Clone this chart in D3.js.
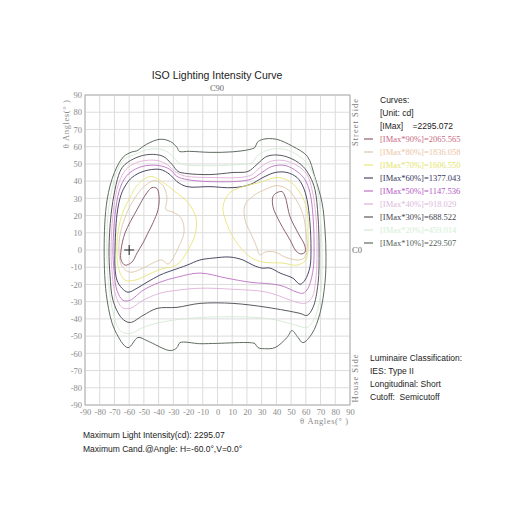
<!DOCTYPE html>
<html><head><meta charset="utf-8">
<script src="https://cdn.jsdelivr.net/npm/d3@7/dist/d3.min.js"></script>
<style>body{margin:0;background:#fff}svg{display:block}</style>
</head><body>
<svg id="chart" width="512" height="512"></svg>
<script>
// ---------- data (angles in degrees: [H, V]) ----------
const xTicks = [-90,-80,-70,-60,-50,-40,-30,-20,-10,0,10,20,30,40,50,60,70,80,90];
const yTicks = [90,80,70,60,50,40,30,20,10,0,-10,-20,-30,-40,-50,-60,-70,-80,-90];
const iMax = 2295.072;
const levelPct = [90,80,70,60,50,40,30,20,10];
const levelValues = [2065.565,1836.058,1606.550,1377.043,1147.536,918.029,688.522,459.014,229.507];
const maxPoint = [-60, 0];

const c10 = [[-77,0],[-75,29],[-70,45],[-64,54],[-58,57],[-55,57.5],[-48,61.5],[-39,64.3],[-32,63],[-27.5,59.6],[-26,57.3],[-19,57.3],[-5,56.7],[10,57],[22,58.4],[25.5,59.6],[27,62.5],[31,64.3],[40,64.3],[51,60.2],[61,54.4],[66,42.7],[71,27.5],[73,11.7],[73.7,-4],[73,-19],[69.6,-36.8],[64.2,-48.5],[58,-53.8],[54.7,-50.8],[50.6,-46.8],[47.2,-50.8],[39,-56.7],[32,-57.3],[27.5,-56.7],[25.5,-54.4],[22,-53.8],[0,-54.2],[-12,-54.4],[-25.5,-53.8],[-27.5,-56.7],[-32,-58.4],[-48,-52.6],[-54,-50.8],[-60.8,-56.7],[-69.6,-46.8],[-75,-29]];
const c20 = [[-75.1,0],[-74.4,20.5],[-71.7,35.1],[-68.3,45.6],[-63.5,52.6],[-56,55.5],[-47,58.4],[-37.7,58.4],[-31,55],[-25.5,50.3],[-5,49],[15.3,49.7],[23.4,50.8],[27.5,55],[35.7,58.4],[46,58.4],[54.7,55],[61.5,49.7],[66.2,40.9],[69,29.2],[70.3,14.6],[71,0],[70.3,-23.4],[66.2,-39.2],[60.8,-45],[54,-43.8],[33.6,-39.7],[-11.9,-39.2],[-39.1,-42.1],[-50.6,-45],[-59.4,-48.5],[-66.2,-46.8],[-71.7,-33.3],[-74.4,-14.6]];
const c30 = [[-73.7,0],[-72.3,20.5],[-69.6,35.1],[-66.2,45.6],[-62.8,49.7],[-54.7,53.8],[-45.8,55.5],[-37,54.4],[-30.9,49.7],[-26.8,45.6],[-20.7,44.4],[-5.1,43.8],[10.5,45],[20.7,45.6],[26.8,49.7],[33.6,54.4],[42.5,55],[51.3,52.6],[58.1,48.5],[62.8,42.7],[66.2,35.1],[68.3,19.3],[69,0],[68.3,-19.3],[64.9,-33.3],[60.8,-38],[56,-36.8],[33.6,-33.3],[10.5,-31],[-11.9,-31],[-27.5,-33.3],[-41.1,-33.9],[-50.6,-38],[-59.4,-42.1],[-64.9,-39.7],[-71,-29.2],[-73,-14.6]];
const c40 = [[-72.3,0],[-71,20.5],[-68.3,35.1],[-64.9,43.2],[-60.8,47.9],[-52.6,51.4],[-41.1,52],[-34.3,49.7],[-28.9,45.6],[-23.4,43.2],[-5.1,42.1],[22.1,43.2],[28.9,47.9],[35.7,51.4],[44.5,52],[54,49.1],[60.8,43.8],[64.2,35.1],[66.9,19.3],[67.6,0],[66.9,-15.8],[64.2,-27.5],[59.4,-31],[54,-30.4],[33.6,-24.5],[10.5,-22.8],[-11.9,-22.2],[-27.5,-23.4],[-39.1,-25.1],[-50.6,-29.2],[-59.4,-33.9],[-64.9,-33.3],[-69.6,-25.1],[-71.7,-11.7]];
const c50 = [[-71,0],[-69.6,20.5],[-66.9,33.9],[-63.5,40.9],[-59.4,45],[-51.3,48.5],[-40.4,49.1],[-32.3,46.8],[-27.5,42.7],[-20.7,40.9],[-5.1,39.7],[22.1,40.9],[30.2,45],[37,48.5],[45.9,49.1],[54,45.6],[59.4,40.9],[62.8,33.3],[64.9,19.3],[65.6,0],[64.9,-11.7],[61.5,-22.2],[58.1,-25.1],[54,-24.5],[42.5,-20.5],[22.1,-18.7],[6.5,-16.4],[-11.9,-13.4],[-27.5,-15.8],[-39.1,-18.7],[-50.6,-23.4],[-59.4,-29.2],[-64.2,-29.2],[-68.3,-23.4],[-70.3,-11.7]];
const c60 = [[-69.6,0],[-68.3,20.5],[-65.5,32.1],[-62.1,38],[-58.1,42.1],[-50.6,45.6],[-39.1,46.8],[-32.3,43.8],[-27.5,39.7],[-20.7,36.8],[-5.1,36.8],[10.5,36.2],[22.1,38],[30.9,42.1],[39.1,45],[47.2,45],[54,42.1],[58.1,36.8],[60.8,29.2],[62.8,15.8],[63.5,0],[62.8,-9.9],[59.4,-17.5],[56,-19.9],[51.3,-16.4],[42.5,-13.4],[35.7,-10.5],[30.2,-10.5],[24.1,-8.8],[17.3,-5.8],[8.5,-4.1],[-3.1,-4.7],[-11.9,-5.8],[-20.7,-8.8],[-30.2,-11.7],[-34.3,-12.9],[-39.1,-14.6],[-47.9,-18.7],[-54.7,-22.2],[-60.8,-24.5],[-64.9,-22.2],[-68.3,-17.5],[-69.6,-9.9]];
const c70L = [[-68.3,0],[-67.6,10.5],[-64.2,22.2],[-59.4,30.4],[-54.7,37.4],[-45.8,42.7],[-37.7,39.7],[-28.9,33.9],[-20,27.5],[-14.6,18.7],[-15.3,8.8],[-20,0],[-25.5,-7],[-30.9,-9.9],[-35.7,-10.5],[-40.4,-11.7],[-47.9,-14.6],[-56,-17.5],[-62.8,-17.5],[-66.9,-11.7]];
const c70R = [[3.7,25.1],[8.5,33.3],[17.3,36.8],[28.9,39.2],[40.4,42.1],[49.3,39.7],[56,33.3],[60.8,23.4],[61.5,9.9],[61.5,0],[60.1,-5.8],[54,-8.8],[44.5,-7.6],[30.9,-7],[22.1,-4.1],[13.2,4.1],[7.2,13.4]];
const c80L = [[-66.9,-1.2],[-66.2,8.8],[-62.1,20.5],[-56,30.4],[-49.2,37.4],[-42.5,40.3],[-37,37.4],[-34.3,30.4],[-35,23.4],[-30.9,22.2],[-24.8,18.7],[-22.7,10.5],[-26.1,2.3],[-30.2,-4.7],[-33.6,-8.2],[-37.7,-5.8],[-42.5,-7],[-50.6,-10.5],[-59.4,-12.9],[-64.9,-9.4]];
const c80R = [[18.7,26.3],[25.5,32.1],[32.3,35.1],[40.4,37.4],[47.9,35.1],[53.4,29.2],[58.1,20.5],[60.1,10.5],[60.8,0],[58.8,-4.7],[54,-5.8],[45.9,-4.1],[39.1,-1.2],[32.3,-1.2],[28.9,-2.9],[26.1,2.9],[22.1,10.5],[18.7,17.5]];
const c90L = [[-65.5,0],[-62.8,9.9],[-54.7,23.4],[-47.9,33.3],[-44.5,36.2],[-41.1,35.7],[-39.7,31],[-40.4,23.4],[-43.8,15.8],[-47.2,9.9],[-50.6,4.1],[-54.7,-1.8],[-58.1,-7],[-62.8,-8.8],[-65.5,-5.8]];
const c90R = [[40.4,33.3],[43.8,33.9],[45.9,31],[49.3,19.3],[54.7,9.9],[59.4,2.3],[59.4,-1.2],[56.7,-2.3],[53.4,-0.6],[49.3,5.8],[42.5,15.8],[37.7,25.1],[37.7,31]];

const contours = [
  {pct:10, rings:[c10]}, {pct:20, rings:[c20]}, {pct:30, rings:[c30]},
  {pct:40, rings:[c40]}, {pct:50, rings:[c50]}, {pct:60, rings:[c60]},
  {pct:70, rings:[c70L, c70R]}, {pct:80, rings:[c80L, c80R]}, {pct:90, rings:[c90L, c90R]}
];

// ---------- styles ----------
const lineColor = {90:"#8e6272",80:"#dcc6a8",70:"#e8e478",60:"#4a4a66",50:"#bc72c4",40:"#e0b0d8",30:"#58585f",20:"#d2ead2",10:"#5e6c60"};
const textColor = {90:"#c86a84",80:"#ecc4a6",70:"#e4e46a",60:"#34345e",50:"#b458c4",40:"#dcb8dc",30:"#44444e",20:"#d4eed4",10:"#52625a"};
const lineWidth = {90:1,80:0.9,70:0.9,60:1,50:0.9,40:0.9,30:1,20:0.9,10:1};

const svg = d3.select("#chart");
svg.append("rect").attr("width",512).attr("height",512).attr("fill","#fff");

const x = d3.scaleLinear().domain([-90,90]).range([85,350]);
const y = d3.scaleLinear().domain([-90,90]).range([405,95]);
const serif = "'Liberation Serif','DejaVu Serif',serif";
const sans = "'Liberation Sans',Arial,sans-serif";

// grid
const grid = svg.append("g");
grid.selectAll("line.v").data(xTicks).join("line")
  .attr("x1",d=>x(d)).attr("x2",d=>x(d)).attr("y1",y(90)).attr("y2",y(-90))
  .attr("stroke","#dcdcdc").attr("stroke-width",1);
grid.selectAll("line.h").data(yTicks).join("line")
  .attr("y1",d=>y(d)).attr("y2",d=>y(d)).attr("x1",x(-90)).attr("x2",x(90))
  .attr("stroke","#dcdcdc").attr("stroke-width",1);
svg.append("rect").attr("x",x(-90)).attr("y",y(90)).attr("width",x(90)-x(-90)).attr("height",y(-90)-y(90))
  .attr("fill","none").attr("stroke","#b0b0b0").attr("stroke-width",1);

// axes
const ax = svg.append("g").attr("transform",`translate(0,${y(-90)})`)
  .call(d3.axisBottom(x).tickValues(xTicks).tickSize(0).tickPadding(4).tickFormat(d=>String(d)));
const ay = svg.append("g").attr("transform",`translate(${x(-90)},0)`)
  .call(d3.axisLeft(y).tickValues(yTicks).tickSize(0).tickPadding(3).tickFormat(d=>String(d)));
[ax,ay].forEach(a=>{
  a.select(".domain").remove();
  a.selectAll("text").attr("fill","#8a8a8a").attr("font-family",serif).attr("font-size",8.5);
});

// contours
const line = d3.line().x(d=>x(d[0])).y(d=>y(d[1])).curve(d3.curveCatmullRomClosed.alpha(0.5));
const cg = svg.append("g").attr("fill","none");
contours.forEach(c=>{
  c.rings.forEach(r=>{
    cg.append("path").attr("d",line(r)).attr("stroke",lineColor[c.pct]).attr("stroke-width",lineWidth[c.pct]);
  });
});

// max marker
svg.append("path")
  .attr("d",`M${x(maxPoint[0])-5},${y(maxPoint[1])}H${x(maxPoint[0])+5}M${x(maxPoint[0])},${y(maxPoint[1])-5}V${y(maxPoint[1])+5}`)
  .attr("stroke","#222").attr("stroke-width",1);

// titles & labels
svg.append("text").attr("x",217).attr("y",79).attr("text-anchor","middle")
  .attr("font-family",sans).attr("font-size",10.5).attr("fill","#222").text("ISO Lighting Intensity Curve");
svg.append("text").attr("x",217).attr("y",91).attr("text-anchor","middle")
  .attr("font-family",serif).attr("font-size",8.5).attr("fill","#666").text("C90");
svg.append("text").attr("transform","translate(69,124) rotate(-90)").attr("text-anchor","middle")
  .attr("font-family",serif).attr("font-size",8.5).attr("fill","#8a8a8a").attr("letter-spacing",0.6).text("θ Angles(° )");
svg.append("text").attr("x",300).attr("y",424)
  .attr("font-family",serif).attr("font-size",8.5).attr("fill","#8a8a8a").attr("letter-spacing",0.6).text("θ Angles(° )");
svg.append("text").attr("transform","translate(358,122) rotate(-90)").attr("text-anchor","middle")
  .attr("font-family",serif).attr("font-size",8.5).attr("fill","#777").attr("letter-spacing",1).text("Street Side");
svg.append("text").attr("transform","translate(358,378) rotate(-90)").attr("text-anchor","middle")
  .attr("font-family",serif).attr("font-size",8.5).attr("fill","#777").attr("letter-spacing",1).text("House Side");
svg.append("text").attr("x",352).attr("y",253)
  .attr("font-family",serif).attr("font-size",8.5).attr("fill","#666").text("C0");

// legend
const lg = svg.append("g");
lg.append("text").attr("x",380).attr("y",103).attr("font-family",sans).attr("font-size",8.5).attr("fill","#222").text("Curves:");
lg.append("text").attr("x",380).attr("y",116).attr("font-family",sans).attr("font-size",8.5).attr("fill","#222").text("[Unit: cd]");
lg.append("text").attr("x",380).attr("y",129).attr("font-family",sans).attr("font-size",8.5).attr("fill","#222").attr("xml:space","preserve").text("[IMax]    =" + iMax.toFixed(3));
const items = lg.selectAll("g.it").data(levelPct).join("g").attr("transform",(d,i)=>`translate(0,${139+i*13})`);
items.append("line").attr("x1",364).attr("x2",373).attr("y1",0).attr("y2",0)
  .attr("stroke",d=>lineColor[d]).attr("stroke-width",1.2);
items.append("text").attr("x",380).attr("y",3).attr("font-family",serif).attr("font-size",8.5)
  .attr("fill",d=>textColor[d]).text((d,i)=>`[IMax*${d}%]=${levelValues[i].toFixed(3)}`);

// classification
const cls = ["Luminaire Classification:","IES: Type II","Longitudinal: Short","Cutoff:  Semicutoff"];
svg.append("g").selectAll("text").data(cls).join("text")
  .attr("x",370).attr("y",(d,i)=>361+i*13).attr("font-family",sans).attr("font-size",8.5).attr("fill","#222")
  .attr("xml:space","preserve").text(d=>d);

// bottom info
const info = ["Maximum Light Intensity(cd): 2295.07","Maximum Cand.@Angle: H=-60.0°,V=0.0°"];
svg.append("g").selectAll("text").data(info).join("text")
  .attr("x",83).attr("y",(d,i)=>438+i*14).attr("font-family",sans).attr("font-size",8.5).attr("fill","#222")
  .text(d=>d);
</script>
</body></html>
